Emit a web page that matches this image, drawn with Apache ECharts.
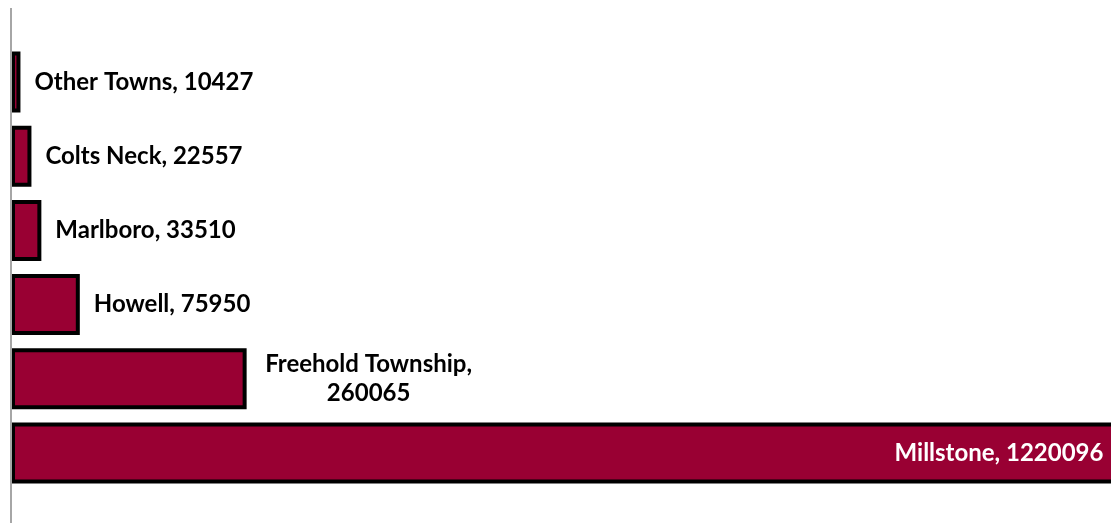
<!DOCTYPE html>
<html>
<head>
<meta charset="utf-8">
<script src="https://cdn.jsdelivr.net/npm/echarts@6/dist/echarts.min.js"></script>
<style>
html, body { margin: 0; padding: 0; background: #fff; overflow: hidden; }
/* a bit wider than the window so the long bar runs off the right edge */
#main { width: 1120px; height: 523px; }
</style>
</head>
<body>
<div id="main"></div>
<script>
// bottom to top
var towns = ['Millstone', 'Freehold Township', 'Howell', 'Marlboro', 'Colts Neck', 'Other Towns'];
var amounts = [1220096, 260065, 75950, 33510, 22557, 10427];

var barData = towns.map(function(name, i) {
    var item = { value: amounts[i], name: name };
    if (name === 'Millstone') {
        item.label = { position: 'insideRight', color: '#fff', distance: 13 };
    } else if (name === 'Freehold Township') {
        item.label = {
            formatter: '{a|Freehold Township,}\n{a|' + amounts[i] + '}',
            rich: { a: { width: 216, align: 'center', lineHeight: 29, fontSize: 24, fontWeight: 'bold', fontFamily: 'Lato' } }
        };
    }
    return item;
});

var chart = echarts.init(document.getElementById('main'));
chart.setOption({
    backgroundColor: '#fff',
    animation: false,
    grid: { left: 11, right: 0, top: 45, bottom: 33 },
    xAxis: {
        type: 'value',
        min: 0,
        max: 1224000,
        show: false
    },
    yAxis: {
        type: 'category',
        data: towns,
        axisLine: { show: false },
        axisTick: { show: false },
        axisLabel: { show: false }
    },
    graphic: [{
        type: 'line',
        shape: { x1: 11, y1: 8, x2: 11, y2: 523 },
        style: { stroke: '#a6a6a6', lineWidth: 2 },
        z: 10
    }],
    series: [{
        type: 'bar',
        data: barData,
        barWidth: 61,
        itemStyle: { color: '#990033', borderColor: '#000', borderWidth: 4 },
        label: {
            show: true,
            position: 'right',
            distance: 14,
            color: '#000',
            fontSize: 24,
            fontWeight: 'bold',
            fontFamily: 'Lato',
            formatter: '{b}, {c}'
        }
    }]
});
</script>
</body>
</html>
